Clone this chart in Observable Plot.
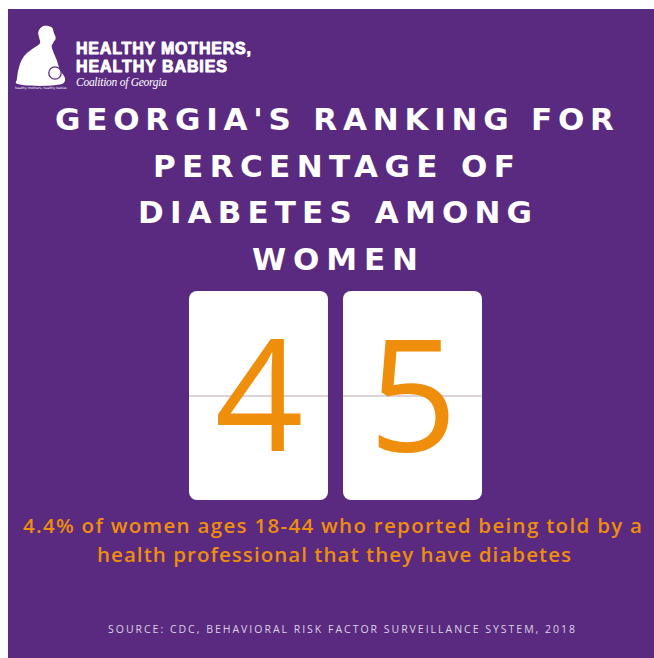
<!DOCTYPE html>
<html><head><meta charset="utf-8">
<script src="https://cdn.jsdelivr.net/npm/d3@7"></script>
<script src="https://cdn.jsdelivr.net/npm/@observablehq/plot@0.6"></script>
<style>
html,body{margin:0;padding:0;background:#fff;}
#page{position:relative;width:654px;height:658px;overflow:hidden;background:#fff;}
#bg{position:absolute;left:8px;top:9px;right:0;bottom:0;background:#592a7f;}
#overlay{position:absolute;left:0;top:0;}
#chart{position:absolute;left:0;top:280px;}
</style></head><body>
<div id="page"><div id="bg"></div><svg id="overlay" width="654" height="658"></svg><div id="chart"></div></div>
<script>
// ---- content ----
const logoLines = ["HEALTHY MOTHERS,", "HEALTHY BABIES"];
const logoTagline = "Coalition of Georgia";
const logoMicro = "healthy mothers, healthy babies";
const titleLines = ["GEORGIA'S RANKING FOR", "PERCENTAGE OF", "DIABETES AMONG", "WOMEN"];
const rankDigits = ["4", "5"];
const captionLines = [
  "4.4% of women ages 18-44 who reported being told by a",
  "health professional that they have diabetes"
];
const sourceText = "SOURCE: CDC, BEHAVIORAL RISK FACTOR SURVEILLANCE SYSTEM, 2018";

// ---- style ----
const PURPLE = "#592a7f";
const ORANGE = "#ef8e0b";

const svg = d3.select("#overlay");

function styled(sel, font) {
  return sel.attr("font-family", font.family)
    .attr("font-size", font.size)
    .attr("font-weight", font.weight || 400)
    .attr("font-style", font.style || "normal")
    .attr("fill", font.fill);
}
function spread(node, str, width) {
  d3.select(node).style("letter-spacing", "0px");
  const w0 = node.getComputedTextLength();
  const n = str.length;
  const ls = n > 1 ? (width - w0) / (n - 1) : 0;
  d3.select(node).style("letter-spacing", ls + "px");
}
// fitted text: placed from left edge x0 to x1 on baseline y
function fitText(str, x0, x1, y, font) {
  const t = styled(svg.append("text"), font).attr("x", x0).attr("y", y).text(str);
  if (font.stroke) t.attr("stroke", font.stroke).attr("stroke-width", font.strokeWidth).attr("stroke-linejoin", "round");
  spread(t.node(), str, x1 - x0);
  return t;
}

// logo silhouette (mother holding baby)
const mother = [[43.3,26],[51.7,27.3],[54,33.3],[55.7,38.3],[53.3,42.7],[51.7,46],[53.3,51.7],[56.7,60],[60,70],[65,78.3],[63.3,83.3],[16,83.3],[16.7,80],[18.3,70],[21.7,60],[26.7,53.3],[33.3,48.3],[40,43.3],[39.3,38.3],[38.3,31.7]];
svg.append("path")
  .attr("d", d3.line().curve(d3.curveCatmullRomClosed.alpha(0.5))(mother))
  .attr("fill", "#fff");
svg.append("circle").attr("cx", 55).attr("cy", 73).attr("r", 6.2)
  .attr("fill", "#fff").attr("stroke", PURPLE).attr("stroke-width", 1.3);
svg.append("text").attr("x", 15).attr("y", 88.5)
  .attr("font-family", "DejaVu Sans").attr("font-size", 3.2).attr("fill", "#fff")
  .text(logoMicro);

const logoFont = {family: "Liberation Sans", size: 16, weight: 700, fill: "#fff", stroke: "#fff", strokeWidth: 0.9};
fitText(logoLines[0], 76, 251, 54, logoFont);
fitText(logoLines[1], 76, 227, 72, logoFont);
fitText(logoTagline, 76, 167, 86, {family: "Liberation Serif", size: 11.5, style: "italic", fill: "#fff"});

// title
const titleFont = {family: "DejaVu Sans", size: 31, weight: 700, fill: "#fff"};
const titleBox = [[55, 614, 130], [153, 515, 177], [138, 532, 223], [252, 418, 270]];
titleLines.forEach((s, i) => fitText(s, titleBox[i][0], titleBox[i][1], titleBox[i][2], titleFont));

// caption
const capFont = {family: "Open Sans", size: 20.5, weight: 600, fill: ORANGE};
fitText(captionLines[0], 23, 642, 533, capFont);
fitText(captionLines[1], 97, 571, 562, capFont);

// source
fitText(sourceText, 108, 575, 633, {family: "Open Sans", size: 10.5, weight: 400, fill: "#ddd2e6"});

// ---- flip cards with Plot ----
const chart = Plot.plot({
  width: 654,
  height: 230,
  margin: 0,
  style: {background: "transparent", overflow: "visible"},
  x: {type: "band", domain: rankDigits, range: [188, 482], paddingInner: 0.1, paddingOuter: 0, axis: null},
  y: {domain: [0, 1], range: [220, 11], axis: null},
  marks: [
    Plot.barY(rankDigits, {x: d => d, y1: 0, y2: 1, fill: "#fff", rx: 8}),
    Plot.tickY(rankDigits, {x: d => d, y: 0.5, stroke: "#ddd3d8", strokeWidth: 2}),
    Plot.text(rankDigits, {x: d => d, y: 0.5, text: d => d, fontSize: 155, fontFamily: "Open Sans", fontWeight: 400, fill: ORANGE, dy: 5})
  ]
});
document.getElementById("chart").appendChild(chart);
</script>
</body></html>
